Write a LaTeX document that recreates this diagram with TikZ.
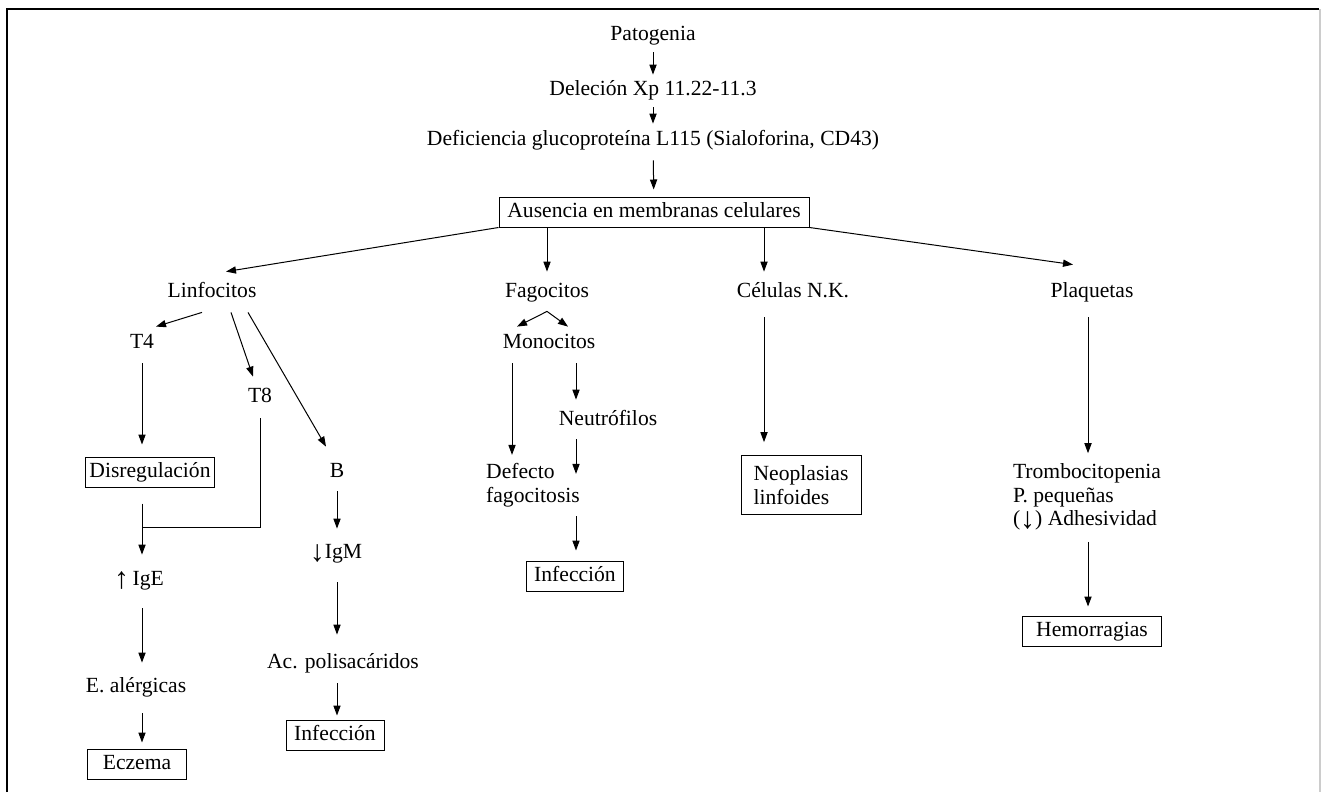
\documentclass[tikz,border=0pt]{standalone}
\usepackage{fontspec}
\setmainfont{Liberation Serif}
\usetikzlibrary{arrows.meta,calc}
\def\fSize{\fontsize{10.8pt}{11.8pt}\selectfont}
\def\lineThickness{(0.5pt)}
\def\tipLen{5pt}
\newcommand{\bigArr}[1]{\raisebox{-1.5pt}{\fontsize{15pt}{15pt}\selectfont #1}}
\tikzset{txt/.style={inner sep=3pt,text height=7.5pt,text depth=2.5pt,font=\fSize}}
\tikzset{box/.style={txt,draw=black,line width=\lineThickness,inner xsep=4pt,inner ysep=2.5pt}}
\tikzset{multi/.style={inner sep=3pt,font=\fSize,align=left}}
\tikzset{ln/.style={black,line width=\lineThickness}}
\tikzset{arr/.style={ln,-{Triangle[length=\tipLen,width=3.6pt]}}}
\tikzset{frm/.style={black,line width=1pt}}
\begin{document}
\begin{tikzpicture}[x=0.5pt,y=-0.5pt]\useasboundingbox (0,0) rectangle (1321,792);
\draw[frm] (6.5,792)--(6.5,9.5)--(1319,9.5);\draw[line width=1pt,black!20] (1319.5,9.5)--(1319.5,792);
\node[txt] (pat) at (653,36) {Patogenia};
\node[txt] (del) at (653,91) {Deleción Xp 11.22-11.3};
\node[txt] (def) at (653,140) {Deficiencia glucoproteína L115 (Sialoforina, CD43)};
\node[box,minimum width=155pt] (aus) at (654,212) {Ausencia en membranas celulares};
\node[txt] (lin) at (212,292) {Linfocitos};\node[txt] (fag) at (547,292) {Fagocitos};\node[txt] (cel) at (793,292) {Células N.K.};\node[txt] (pla) at (1092,292) {Plaquetas};
% linfocitos
\node[txt] (t4) at (142,343) {T4};\node[txt] (t8) at (260,397) {T8};\node[txt] (b) at (337,472) {B};
\node[box,minimum width=64.5pt,inner xsep=2pt] (dis) at (150,472) {Disregulación};
\node[txt] (ige) at (139,580) {\bigArr{↑}\,IgE};
\node[txt] (ale) at (136,687) {E. alérgicas};
\node[box,minimum width=49.5pt] (ecz) at (137,764) {Eczema};
\node[txt] (igm) at (336,553) {\bigArr{↓}IgM};
\node[txt] (acp) at (343,663) {Ac. polisacáridos};
\node[box,minimum width=49pt] (infb) at (335,735) {Infección};
% fagocitos
\node[txt] (mon) at (549,343) {Monocitos};
\node[txt] (neu) at (608,420) {Neutrófilos};
\node[multi] (dft) at (533,485) {Defecto\\fagocitosis};
\node[box,minimum width=48.5pt] (inff) at (575,576) {Infección};
% N.K. y plaquetas
\node[multi,draw=black,line width=\lineThickness,minimum width=60pt,inner ysep=5pt] (neo) at (801,485) {Neoplasias\\linfoides};
\node[multi] (tro) at (1087,497) {Trombocitopenia\\P. pequeñas\\(\bigArr{↓}) Adhesividad};
\node[box,minimum width=69.5pt] (hem) at (1092,631) {Hemorragias};
\foreach\a/\b in {pat/del,del/def}{\draw[arr] (\a)--(\b);};
\draw[arr,shorten <=2pt,shorten >=3.5pt] (def)--(aus);
\draw[arr] (aus.south west)--([xshift=7pt,yshift=2pt]lin.north);
\draw[arr,shorten >=2pt] (aus.south -| fag)--(fag);
\coordinate (celin) at ([xshift=-14.5pt]cel.north);\draw[arr,shorten >=2pt] (aus.south -| celin)--(celin);
\draw[arr] (aus.south east)--([xshift=-9.5pt,yshift=5.5pt]pla.north);
\draw[arr] ([xshift=-5pt,yshift=-2pt]lin.south)--([xshift=7pt]t4.north);
\draw[arr] ([xshift=9.5pt,yshift=-2pt]lin.south)--([xshift=-3.5pt,yshift=2pt]t8.north);
\draw[arr] ([xshift=18pt,yshift=-2pt]lin.south)--([xshift=-5.5pt,yshift=4.5pt]b.north);
\draw[arr,shorten <=2pt,shorten >=6pt] (t4)--(t4 |- dis.north);
\coordinate (jn) at (142,527);\draw[ln,shorten <=2.5pt] (t8)--(t8 |- jn)--(jn);
\draw[arr,shorten <=8pt,shorten >=4.5pt] (dis.south -| jn)--(jn |- ige.north);
\draw[arr,shorten <=6pt,shorten >=4pt] (ige.south -| jn)--(jn |- ale.north);
\draw[arr,shorten <=5pt,shorten >=3pt] (ale.south -| jn)--(jn |- ecz.north);
\draw[arr,shorten <=1.5pt,shorten >=4pt] (b)--(b |- igm.north);
\draw[arr,shorten <=6.5pt,shorten >=6pt] (b |- igm.south)--(b |- acp.north);
\draw[arr,shorten <=2pt,shorten >=2pt] (b |- acp.south)--(b |- infb.north);
\coordinate (fv) at ([yshift=-1.5pt]fag.south);\draw[arr] (fv)--([xshift=-16pt]mon.north);\draw[arr] (fv)--([xshift=9.5pt]mon.north);
\coordinate (fl) at ([xshift=-18.5pt]mon.south);\coordinate (fr) at ([xshift=13.5pt]mon.south);
\draw[arr,shorten <=2pt,shorten >=1pt] (fl)--(fl |- dft.north);
\draw[arr,shorten <=2pt,shorten >=2pt] (fr)--(fr |- neu.north);
\draw[arr,shorten <=1.5pt,shorten >=-8.5pt] (fr |- neu.south)--(fr |- dft.north);
\draw[arr,shorten <=1.5pt,shorten >=5pt] (fr |- dft.south)--(fr |- inff.north);
\draw[arr,shorten <=4.5pt,shorten >=6.5pt] (celin |- cel.south)--(celin |- neo.north);
\coordinate (px) at ([xshift=-2pt]pla.south);
\draw[arr,shorten <=4.5pt,shorten >=2pt] (px)--(px |- tro.north);
\draw[arr,shorten <=2.5pt,shorten >=4.5pt] (px |- tro.south)--(px |- hem.north);
\end{tikzpicture}
\end{document}
